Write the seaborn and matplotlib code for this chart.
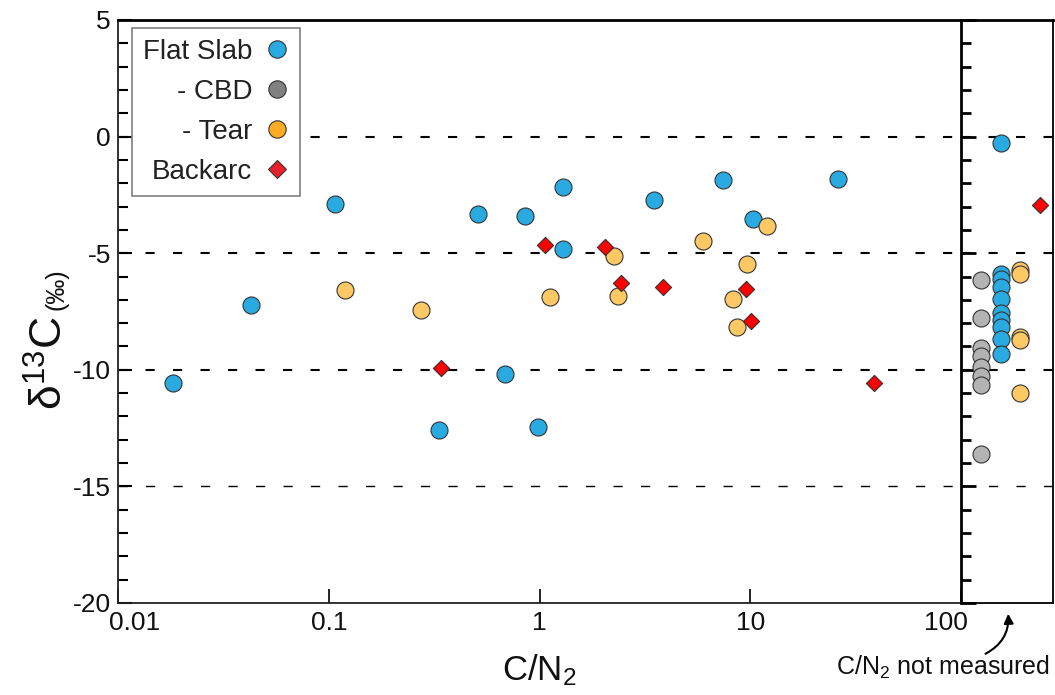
import matplotlib
matplotlib.use("Agg")
import matplotlib.pyplot as plt
import seaborn as sns
from matplotlib.lines import Line2D
from matplotlib.patches import FancyArrowPatch
from matplotlib.ticker import MultipleLocator, NullLocator, FixedLocator
from matplotlib.transforms import ScaledTranslation

# --- data: C/N2 ratio and d13C (permil) ---
flat_cn = [0.0182, 0.0428, 0.107, 0.51, 0.853, 1.29, 1.29, 3.49, 7.43, 10.3, 26.1, 0.685, 0.333, 0.984]
flat_d13c = [-10.55, -7.24, -2.91, -3.34, -3.40, -2.16, -4.82, -2.72, -1.86, -3.53, -1.82, -10.18, -12.58, -12.45]

tear_cn = [0.119, 0.274, 1.12, 2.26, 2.36, 5.97, 8.28, 8.65, 9.66, 12.0]
tear_d13c = [-6.58, -7.44, -6.88, -5.12, -6.84, -4.48, -6.96, -8.16, -5.46, -3.83]

backarc_cn = [0.341, 1.06, 2.05, 2.44, 3.85, 9.55, 10.1, 38.6]
backarc_d13c = [-9.92, -4.65, -4.73, -6.28, -6.45, -6.54, -7.91, -10.56]

# samples without a C/N2 measurement
cbd_nm = [-6.15, -7.8, -9.05, -9.4, -9.9, -10.25, -10.65, -13.6]
flat_nm = [-0.29, -5.89, -6.12, -6.44, -6.96, -7.55, -7.86, -8.15, -8.69, -9.34]
tear_nm = [-5.72, -5.91, -8.58, -8.72, -11.01]
backarc_nm = [-2.95]

x_ticks = [0.01, 0.1, 1, 10, 100]
x_tick_labels = ["0.01", "0.1", "1", "10", "100"]
y_ticks = [-20, -15, -10, -5, 0, 5]
ref_lines = [0, -5, -10, -15]

legend_labels = ["Flat Slab", "    - CBD", "    - Tear", "Backarc"]

# --- style ---
sns.set_theme(style="white")
plt.rcParams["font.family"] = ["Liberation Sans", "DejaVu Sans"]
plt.rcParams["mathtext.fontset"] = "custom"
plt.rcParams["mathtext.rm"] = "Liberation Sans"
plt.rcParams["mathtext.it"] = "Liberation Sans:italic"
plt.rcParams["axes.unicode_minus"] = False

BLUE = "#29abe2"
GREY = "#b3b3b3"
ORANGE = "#fec965"
RED = "#ff0000"
EDGE = "#333333"
LEG_GREY = "#808080"
LEG_ORANGE = "#f9ac22"
LEG_RED = "#e8202a"
TXT = "#111111"

W, H = 1055, 695
fig = plt.figure(figsize=(W / 100, H / 100), dpi=100)
L, R, B, T = 118, 961, 603, 20
ax = fig.add_axes([L / W, 1 - B / H, (R - L) / W, (B - T) / H])
ax2 = fig.add_axes([R / W, 1 - B / H, (1053 - R) / W, (B - T) / H])

CIRCLE_S = 150
DIAMOND_S = 68


def ref_dashes(a):
    for v in ref_lines:
        lw = 1.0 if v == -15 else 1.5
        a.axhline(v, color="black", lw=lw, dashes=(9.2 * 0.72 / lw, 18.3 * 0.72 / lw), zorder=1)


# --- main panel ---
ref_dashes(ax)
sns.scatterplot(x=flat_cn, y=flat_d13c, ax=ax, color=BLUE, marker="o", s=CIRCLE_S,
                edgecolor=EDGE, linewidth=0.8, zorder=3, legend=False)
sns.scatterplot(x=tear_cn, y=tear_d13c, ax=ax, color=ORANGE, marker="o", s=CIRCLE_S,
                edgecolor=EDGE, linewidth=0.8, zorder=4, legend=False)
sns.scatterplot(x=backarc_cn, y=backarc_d13c, ax=ax, color=RED, marker="D", s=DIAMOND_S,
                edgecolor=EDGE, linewidth=0.8, zorder=5, legend=False)

ax.set_xscale("log")
ax.set_xlim(0.01, 100)
ax.set_ylim(-20, 5)
ax.xaxis.set_major_locator(FixedLocator(x_ticks))
ax.set_xticklabels(x_tick_labels)
ax.xaxis.set_minor_locator(NullLocator())
ax.yaxis.set_major_locator(FixedLocator(y_ticks))
ax.yaxis.set_minor_locator(MultipleLocator(1))
ax.tick_params(axis="x", which="major", direction="in", bottom=True, length=10, width=1.2,
               labelsize=19, pad=6, color="black", labelcolor=TXT)
ax.tick_params(axis="y", which="major", direction="in", left=True, length=10, width=1.5,
               labelsize=19, pad=5, color="black", labelcolor=TXT)
ax.tick_params(axis="y", which="minor", direction="in", left=True, length=7, width=1.5, color="black")

# keep the outer tick labels inside the frame
xl = ax.get_xticklabels()
xl[0].set_transform(xl[0].get_transform() + ScaledTranslation(17 / 100, 0, fig.dpi_scale_trans))
xl[-1].set_transform(xl[-1].get_transform() + ScaledTranslation(-15 / 100, 0, fig.dpi_scale_trans))

for side in ["left", "bottom"]:
    ax.spines[side].set_color("#222222")
    ax.spines[side].set_linewidth(1.3)
ax.spines["top"].set_color("black")
ax.spines["top"].set_linewidth(2.0)
ax.spines["right"].set_visible(False)

ax.set_xlabel("C/N$_\\mathrm{2}$", fontsize=25, color=TXT, labelpad=12)
ax.set_ylabel("")

# y label: large delta-13C followed by a smaller permil unit on the same baseline
ylab_main = fig.text(63 / W, 1 - 410 / H, "δ$^{\\mathrm{13}}$C", rotation=90, rotation_mode="anchor",
                     ha="left", va="baseline", fontsize=32, color=TXT)
fig.canvas.draw()
bb = ylab_main.get_window_extent(fig.canvas.get_renderer())
fig.text(63 / W, (bb.y1 + 6) / H, "(‰)", rotation=90, rotation_mode="anchor",
         ha="left", va="baseline", fontsize=18, color=TXT)

handles = [
    Line2D([], [], ls="none", marker="o", ms=12.5, mfc=BLUE, mec=EDGE, mew=0.8),
    Line2D([], [], ls="none", marker="o", ms=12.5, mfc=LEG_GREY, mec=EDGE, mew=0.8),
    Line2D([], [], ls="none", marker="o", ms=12.5, mfc=LEG_ORANGE, mec=EDGE, mew=0.8),
    Line2D([], [], ls="none", marker="D", ms=9.2, mfc=LEG_RED, mec=EDGE, mew=0.8),
]
leg = ax.legend(handles, legend_labels, loc="upper left",
                bbox_to_anchor=((132 - L) / (R - L), 1 - (28 - T) / (B - T)),
                borderaxespad=0, markerfirst=False, fontsize=20, frameon=True,
                fancybox=False, edgecolor="#808080", framealpha=1, handlelength=0.8,
                handletextpad=0.5, labelspacing=0.5, borderpad=0.4)
leg.get_frame().set_linewidth(1.2)
for t in leg.get_texts():
    t.set_color("#222222")

# --- side panel: samples without C/N2 ---
ref_dashes(ax2)
side_groups = [(cbd_nm, 1, GREY, "o", CIRCLE_S), (flat_nm, 2, BLUE, "o", CIRCLE_S),
               (tear_nm, 3, ORANGE, "o", CIRCLE_S), (backarc_nm, 4, RED, "D", DIAMOND_S)]
for vals, pos, col, mk, s in side_groups:
    sns.scatterplot(x=[pos] * len(vals), y=vals, ax=ax2, color=col, marker=mk, s=s,
                    edgecolor=EDGE, linewidth=0.8, zorder=3 + pos, legend=False)
ax2.set_xlim(0, 4.65)
ax2.set_ylim(-20, 5)
ax2.set_xticks([])
ax2.yaxis.set_major_locator(FixedLocator(y_ticks))
ax2.yaxis.set_minor_locator(MultipleLocator(1))
ax2.tick_params(axis="y", which="major", direction="in", left=True, right=False, length=11,
                width=2.0, labelleft=False, color="black")
ax2.tick_params(axis="y", which="minor", direction="in", left=True, right=False, length=7,
                width=2.0, color="black")
for side in ["left", "right", "top", "bottom"]:
    ax2.spines[side].set_color("black")
    ax2.spines[side].set_linewidth(2.0)
ax2.spines["bottom"].set_linewidth(1.3)
ax2.spines["right"].set_linewidth(1.3)

fig.text(943 / W, 1 - 667 / H, "C/N$_\\mathrm{2}$ not measured", fontsize=18,
         ha="center", va="center", color=TXT)
fig.add_artist(FancyArrowPatch(
    posA=(983, H - 655), posB=(1008, H - 611), transform=None,
    arrowstyle="-|>", mutation_scale=14, lw=1.5, color="black",
    connectionstyle="arc3,rad=0.35"))

fig.savefig("out.png", dpi=100)
